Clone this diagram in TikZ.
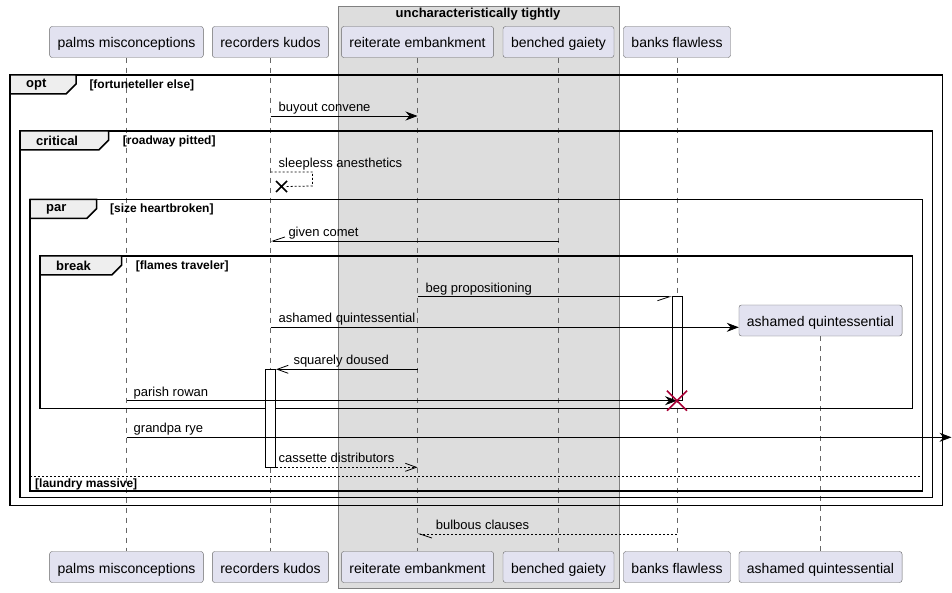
\documentclass[tikz,border=0pt]{standalone}
\usepackage{fontspec}
\setmainfont{Liberation Sans}
\usetikzlibrary{arrows.meta}
\definecolor{partfill}{HTML}{E2E2F0}
\definecolor{boxfill}{HTML}{DDDDDD}
\definecolor{tabfill}{HTML}{EEEEEE}
\definecolor{killred}{HTML}{A80036}
\begin{document}
\begin{tikzpicture}[x=1pt,y=-1pt,
    part/.style={draw=black!60,fill=partfill,rounded corners=2.5pt,minimum height=31pt,inner xsep=8pt,text height=12pt,text depth=0pt,font=\fontsize{14}{16}\selectfont},
    life/.style={black!60,line width=0.5pt,dash pattern=on 5pt off 5pt},
    grpframe/.style={line width=1.5pt},
    tab/.style={line width=1.5pt,fill=tabfill},
    glabel/.style={anchor=west,inner sep=0pt,font=\bfseries\fontsize{13}{15}\selectfont},
    guard/.style={anchor=west,inner sep=0pt,font=\bfseries\fontsize{12}{14}\selectfont},
    mtext/.style={anchor=base west,inner sep=0pt,font=\fontsize{13}{15}\selectfont},
    act/.style={draw,fill=white,line width=0.8pt,minimum width=10pt,inner sep=0pt},
    msg/.style={line width=0.8pt},
    reply/.style={dash pattern=on 2pt off 2pt},
    fullhead/.style={-{Stealth[length=12pt,width=9pt,inset=4pt]}},
    openhead/.style={-{Straight Barb[length=11pt,width=8pt]}},
    halfR/.style={-{Straight Barb[length=12pt,width=8pt,right]}},
    halfL/.style={-{Straight Barb[length=12pt,width=8pt,left]}}]
  \useasboundingbox (0,0) rectangle (952,593);
  \draw[black!50,fill=boxfill] (337.7,6) rectangle (618.7,588);
  \node[font=\bfseries\fontsize{13}{15}\selectfont] (boxT) at (478,14.5) {uncharacteristically tightly};

  \node[part] (pm) at (126.5,42) {palms misconceptions};
  \node[part] (rk) at (270.5,42) {recorders kudos};
  \node[part] (re) at (417.5,42) {reiterate embankment};
  \node[part] (bg) at (558.5,42) {benched gaiety};
  \node[part] (bf) at (677,42) {banks flawless};
  \node[part] (aq) at (820.5,320.5) {ashamed quintessential};
  \node[part] (pmB) at (126.5,567) {palms misconceptions};
  \node[part] (rkB) at (270.5,567) {recorders kudos};
  \node[part] (reB) at (417.5,567) {reiterate embankment};
  \node[part] (bgB) at (558.5,567) {benched gaiety};
  \node[part] (bfB) at (677,567) {banks flawless};
  \node[part] (aqB) at (820.5,567) {ashamed quintessential};
  \foreach \p in {pm,rk,re,bg,bf,aq}
    \draw[life] (\p.south) -- (\p B.north);

  % groups
  \draw[grpframe] (10,75) rectangle (942.7,505.7);
  \draw[tab] (10,75) -- (76,75) -- (76,84) -- (66,94) -- (10,94) -- cycle;
  \node[glabel] (optL) at (26,85) {opt};
  \node[guard] (optG) at (89.3,85.5) {[fortuneteller else]};
  \draw[grpframe] (20,131) rectangle (932.7,497.7);
  \draw[tab] (20,131) -- (108.7,131) -- (108.7,140) -- (98.7,150) -- (20,150) -- cycle;
  \node[glabel] (critL) at (36,141) {critical};
  \node[guard] (critG) at (122.7,141.5) {[roadway pitted]};
  \draw[grpframe] (30,199.5) rectangle (922.7,491);
  \draw[tab] (30,199.5) -- (96.7,199.5) -- (96.7,208.5) -- (86.7,218.5) -- (30,218.5) -- cycle;
  \node[glabel] (parL) at (46,209.5) {par};
  \node[guard] (parG) at (110,209.5) {[size heartbroken]};
  \draw[msg,reply] (30,476.7) -- (922.7,476.7);
  \node[guard] (parE) at (35,484.3) {[laundry massive]};
  \draw[grpframe] (40,256) rectangle (912.7,408.7);
  \draw[tab] (40,256) -- (121.7,256) -- (121.7,265) -- (111.7,275) -- (40,275) -- cycle;
  \node[glabel] (brkL) at (56,266) {break};
  \node[guard] (brkG) at (135.7,266) {[flames traveler]};

  % activations
  \node[act,minimum height=98pt] (actR) at (270.7,418.3) {};
  \node[act,minimum height=103.3pt] (actB) at (677.3,348.35) {};

  % messages
  \draw[msg,fullhead] (rk |- 0,116) -- (re |- 0,116);
  \node[mtext] (m1) at (278.5,111.5) {buyout convene};
  \coordinate (lost) at (281.5,186.5);
  \draw[msg,reply] (rk |- 0,172) -- (312.5,172) -- (312.5,186) -- ([xshift=5pt]lost);
  \draw[line width=1.5pt] (lost) +(-5.5,-5.5) -- +(5.5,5.5) (lost) +(-5.5,5.5) -- +(5.5,-5.5);
  \node[mtext] (m2) at (278.5,167.5) {sleepless anesthetics};
  \draw[msg,halfR] (bg |- 0,241) -- (rk |- 0,241);
  \node[mtext] (m3) at (288.3,236.5) {given comet};
  \draw[msg,halfR] (re |- 0,296.7) -- (actB.west |- 0,296.7);
  \node[mtext] (m4) at (425.5,292.2) {beg propositioning};
  \draw[msg,fullhead] (rk |- 0,327.3) -- (aq.west |- 0,327.3);
  \node[mtext] (m5) at (278.5,322.8) {ashamed quintessential};
  \draw[msg,openhead] (re |- 0,369.3) -- (actR.east |- 0,369.3);
  \node[mtext] (m6) at (293.3,364.8) {squarely doused};
  \draw[msg,fullhead] (pm |- 0,400.7) -- (bf |- 0,400.7);
  \node[mtext] (m7) at (133.5,396.2) {parish rowan};
  \coordinate (kill) at (bf |- 0,400.7);
  \draw[killred,line width=1.5pt] (kill) +(-10,-10) -- +(10,10) (kill) +(-10,10) -- +(10,-10);
  \coordinate (edgeR) at (951.5,437.3);
  \draw[msg,fullhead] (pm |- 0,437.3) -- (edgeR);
  \node[mtext] (m8) at (133.5,432.8) {grandpa rye};
  \draw[msg,reply,openhead] (actR.east |- 0,467.3) -- (re |- 0,467.3);
  \node[mtext] (m9) at (278.5,462.8) {cassette distributors};
  \draw[msg,reply,halfL] (bf |- 0,534) -- (re |- 0,534);
  \node[mtext] (m10) at (435.7,529.5) {bulbous clauses};
\end{tikzpicture}
\end{document}
